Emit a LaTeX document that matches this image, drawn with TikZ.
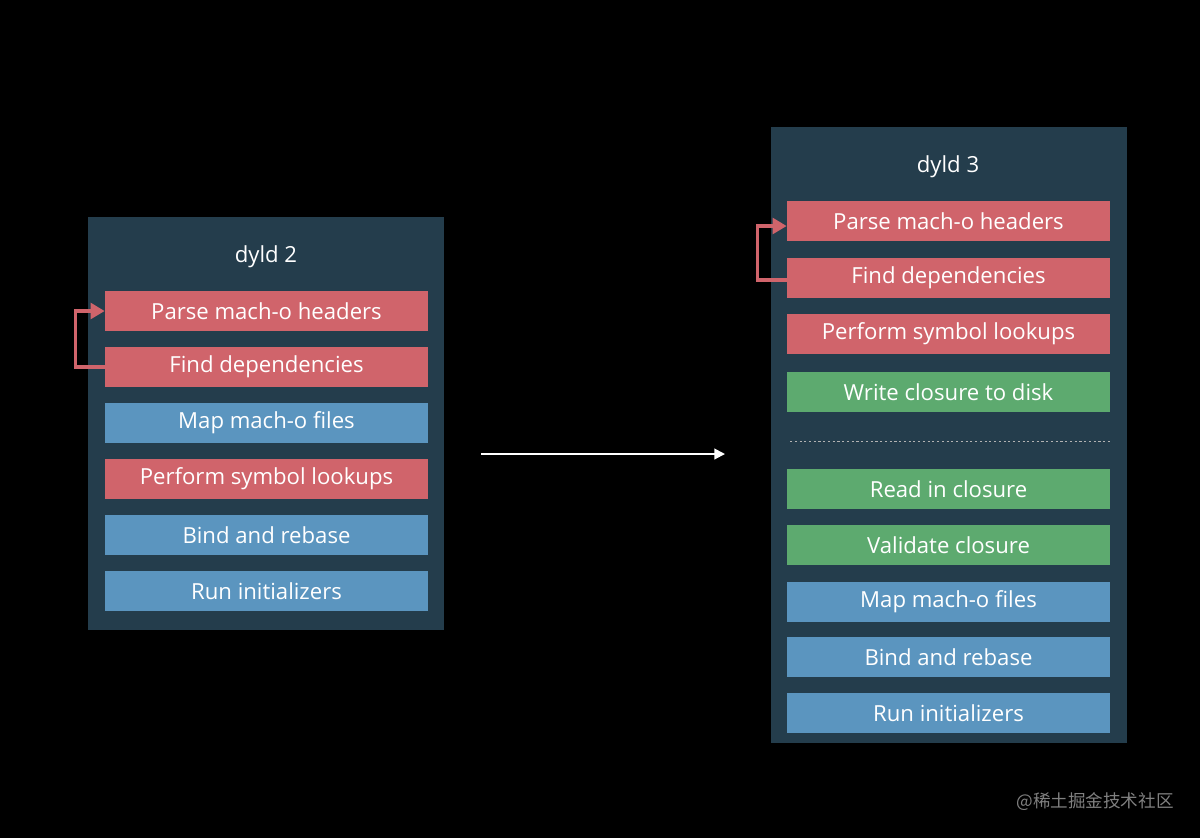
\documentclass[tikz,border=0pt]{standalone}
\usepackage{fontspec}
\setmainfont{Open Sans}
\newfontfamily\cjkfont{Noto Sans CJK SC}
\usepackage{tikz}
\usetikzlibrary{arrows.meta,calc}
\definecolor{bgpanel}{HTML}{243D4C}
\definecolor{barred}{HTML}{D0646B}
\definecolor{barblue}{HTML}{5B95BF}
\definecolor{bargreen}{HTML}{5DAA6F}
\tikzset{panel/.style={fill=bgpanel, draw=none},
  bar/.style={minimum width=6.46cm, minimum height=0.8cm, inner sep=0pt, text=white, font=\fontsize{12.6}{14}\selectfont},
  rbar/.style={bar, fill=barred}, bbar/.style={bar, fill=barblue}, gbar/.style={bar, fill=bargreen},
  ttl/.style={text=white, font=\fontsize{12.6}{14}\selectfont},
  loop/.style={draw=barred, line width=1.8pt, -{Triangle[length=8pt,width=9pt]}}}

\begin{document}
\begin{tikzpicture}
  \fill[black] (0,0) rectangle (24,-16.76);
  \useasboundingbox (0,0) rectangle (24,-16.76);
  \fill[panel] (1.76,-4.34) rectangle (8.88,-12.6);
  \fill[panel] (15.42,-2.54) rectangle (22.54,-14.86);
  % dyld 2
  \node[ttl] (t2) at (5.32,-5.14) {dyld 2};
  \node[rbar] (a1) at (5.33,-6.22) {Parse mach-o headers};
  \node[rbar] (a2) at (5.33,-7.34) {Find dependencies};
  \node[bbar] (a3) at (5.33,-8.46) {Map mach-o files};
  \node[rbar] (a4) at (5.33,-9.58) {Perform symbol lookups};
  \node[bbar] (a5) at (5.33,-10.70) {Bind and rebase};
  \node[bbar] (a6) at (5.33,-11.82) {Run initializers};
  \draw[loop] (a2.west) -- ++(-0.58,0) |- (a1.west);
  % dyld 3
  \node[ttl] (t3) at (18.96,-3.34) {dyld 3};
  \node[rbar] (b1) at (18.97,-4.42) {Parse mach-o headers};
  \node[rbar] (b2) at (18.97,-5.56) {Find dependencies};
  \node[rbar] (b3) at (18.97,-6.68) {Perform symbol lookups};
  \node[gbar] (b4) at (18.97,-7.84) {Write closure to disk};
  \node[gbar] (b5) at (18.97,-9.78) {Read in closure};
  \node[gbar] (b6) at (18.97,-10.90) {Validate closure};
  \node[bbar] (b7) at (18.97,-12.04) {Map mach-o files};
  \node[bbar] (b8) at (18.97,-13.14) {Bind and rebase};
  \node[bbar] (b9) at (18.97,-14.26) {Run initializers};
  \draw[loop] ([yshift=-0.04cm]b2.west) -- ++(-0.58,0) |- ([yshift=-0.1cm]b1.west);
  \coordinate (d0) at (15.8,-8.82);
  \coordinate (d1) at (22.2,-8.82);
  \draw[gray!60, line width=0.5pt, dash pattern=on 1.2pt off 1.5pt] (d0) -- (d1);
  % middle arrow
  \coordinate (m0) at (9.62,-9.08);
  \coordinate (m1) at (14.5,-9.08);
  \draw[white, line width=1.1pt, -{Triangle[length=6pt,width=6pt]}] (m0) -- (m1);
  \node[text=gray, font=\cjkfont\fontsize{10}{12}\selectfont] (wm) at (21.9,-16.04) {@稀土掘金技术社区};
\end{tikzpicture}
\end{document}
